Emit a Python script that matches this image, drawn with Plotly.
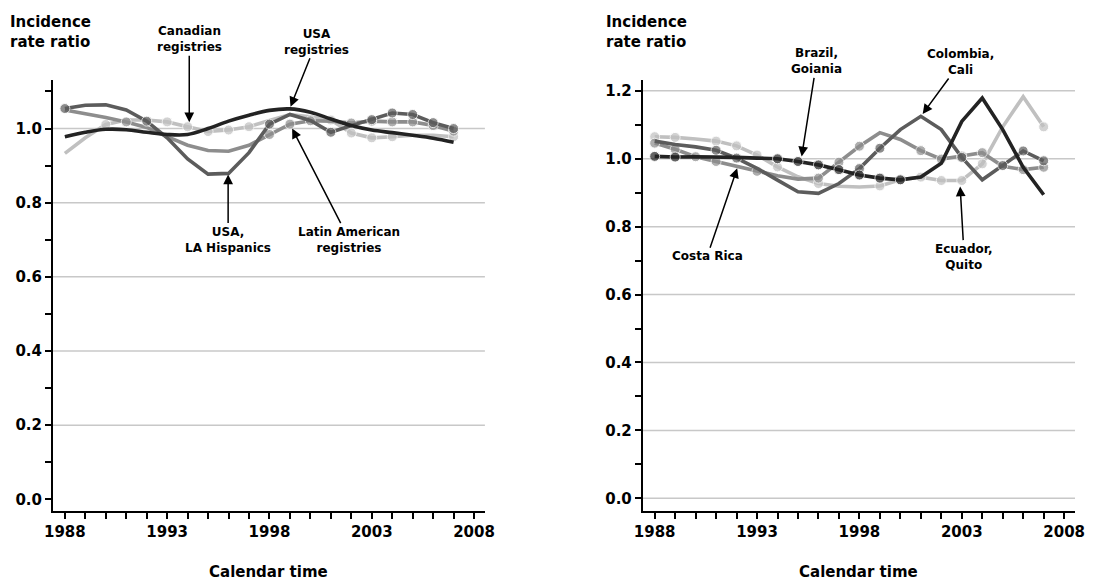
import plotly.graph_objects as go

years = list(range(1988, 2008))

# Left panel (North America / Latin America registries)
usa_registries = [0.978, 0.990, 0.998, 0.997, 0.990, 0.984, 0.984, 1.000, 1.020, 1.036,
                  1.049, 1.053, 1.044, 1.026, 1.008, 0.996, 0.989, 0.982, 0.974, 0.963]
usa_la_hispanics = [1.054, 1.063, 1.064, 1.050, 1.020, 0.975, 0.918, 0.877, 0.879, 0.935,
                    1.012, 1.038, 1.022, 0.990, 1.008, 1.024, 1.042, 1.038, 1.016, 1.000]
latin_american = [1.050, 1.041, 1.030, 1.018, 1.003, 0.978, 0.955, 0.941, 0.939, 0.955,
                  0.984, 1.012, 1.021, 1.020, 1.015, 1.020, 1.018, 1.018, 1.008, 0.993]
canadian = [0.933, 0.975, 1.011, 1.023, 1.023, 1.018, 1.005, 0.992, 0.996, 1.005,
            1.022, 1.038, 1.032, 1.023, 0.988, 0.975, 0.978, 0.982, 0.982, 0.978]

# Right panel (Latin American registries)
brazil_goiania = [1.007, 1.005, 1.006, 1.006, 1.004, 1.002, 1.000, 0.992, 0.982, 0.968,
                  0.952, 0.943, 0.938, 0.946, 0.987, 1.110, 1.179, 1.086, 0.975, 0.894]
colombia_cali = [1.052, 1.042, 1.035, 1.025, 1.002, 0.972, 0.937, 0.903, 0.898, 0.927,
                 0.971, 1.031, 1.086, 1.125, 1.086, 1.004, 0.938, 0.980, 1.023, 0.994]
costa_rica = [1.046, 1.028, 1.006, 0.992, 0.979, 0.963, 0.950, 0.940, 0.943, 0.990,
              1.037, 1.077, 1.057, 1.024, 0.999, 1.008, 1.018, 0.978, 0.968, 0.975]
ecuador_quito = [1.065, 1.063, 1.058, 1.052, 1.038, 1.011, 0.976, 0.947, 0.927, 0.919,
                 0.917, 0.920, 0.938, 0.946, 0.936, 0.936, 0.985, 1.094, 1.183, 1.094]

# which yearly points carry a visible marker (1) or not (0)
mk_usa = [0] * 20
mk_la_hisp = [1, 0, 0, 0, 1, 0, 0, 0, 0, 0, 1, 0, 0, 1, 0, 1, 1, 1, 1, 1]
mk_latin = [0, 0, 0, 1, 0, 0, 0, 0, 0, 0, 1, 1, 1, 0, 1, 1, 1, 1, 1, 1]
mk_canadian = [0, 0, 1, 0, 0, 1, 1, 1, 1, 1, 0, 0, 0, 1, 1, 1, 1, 0, 0, 1]
mk_brazil = [1, 1, 0, 0, 0, 0, 1, 1, 1, 1, 1, 1, 1, 0, 0, 0, 0, 0, 0, 0]
mk_colombia = [0, 0, 0, 1, 1, 0, 0, 0, 0, 0, 1, 1, 0, 0, 0, 1, 0, 1, 1, 1]
mk_costa = [1, 1, 1, 1, 0, 1, 0, 0, 1, 1, 1, 0, 0, 1, 1, 1, 1, 0, 1, 1]
mk_ecuador = [1, 1, 0, 1, 1, 1, 1, 0, 1, 0, 0, 1, 1, 1, 1, 1, 1, 0, 0, 1]

x_ticks = [1988, 1993, 1998, 2003, 2008]
left_y_ticks = [0.0, 0.2, 0.4, 0.6, 0.8, 1.0]
right_y_ticks = [0.0, 0.2, 0.4, 0.6, 0.8, 1.0, 1.2]
left_grid = [0.2, 0.4, 0.6, 0.8, 1.0]
right_grid = [0.0, 0.2, 0.4, 0.6, 0.8, 1.0, 1.2]

BLACK = "#232323"
DARK = "#5c5c5c"
MID = "#8d8d8d"
LIGHT = "#c0c0c0"
FONT = "DejaVu Sans"

fig = go.Figure()


def add_series(vals, mask, color, xa, ya, shape="linear"):
    fig.add_trace(go.Scatter(
        x=years, y=vals, mode="lines+markers", xaxis=xa, yaxis=ya,
        line=dict(color=color, width=3.6, shape=shape, smoothing=1.0),
        marker=dict(color=color, size=[10 if m else 0 for m in mask]),
        showlegend=False, hoverinfo="skip"))


add_series(canadian, mk_canadian, LIGHT, "x", "y")
add_series(latin_american, mk_latin, MID, "x", "y")
add_series(usa_la_hispanics, mk_la_hisp, DARK, "x", "y")
add_series(usa_registries, mk_usa, BLACK, "x", "y", shape="spline")

add_series(ecuador_quito, mk_ecuador, LIGHT, "x2", "y2")
add_series(costa_rica, mk_costa, MID, "x2", "y2")
add_series(colombia_cali, mk_colombia, DARK, "x2", "y2")
add_series(brazil_goiania, mk_brazil, BLACK, "x2", "y2")

tickfont = dict(family=FONT, size=15, color="black", weight="bold")


def xaxis_cfg(domain, anchor):
    return dict(domain=domain, anchor=anchor, range=[1987.42, 2008.53],
                tickmode="array", tickvals=x_ticks, ticks="outside", ticklen=6,
                tickwidth=1.5, tickcolor="black", showline=True, linewidth=2,
                linecolor="black", showgrid=False, zeroline=False, tickfont=tickfont,
                minor=dict(dtick=1, tick0=1988, ticks="outside", ticklen=6,
                           tickwidth=1.5, tickcolor="black", showgrid=False))


def yaxis_cfg(rng, tv, anchor):
    return dict(domain=[0, 1], anchor=anchor, range=rng, tickmode="array",
                tickvals=tv, tickformat=".1f", ticks="outside", ticklen=6,
                tickwidth=1.5, tickcolor="black", showline=True, linewidth=2,
                linecolor="black", showgrid=False, zeroline=False, tickfont=tickfont,
                minor=dict(dtick=0.1, tick0=0, ticks="outside", ticklen=6,
                           tickwidth=1.5, tickcolor="black", showgrid=False))


shapes = []
for g in left_grid:
    shapes.append(dict(type="line", xref="x domain", yref="y", x0=0, x1=1, y0=g, y1=g,
                       line=dict(color="#c8c8c8", width=1.5), layer="below"))
for g in right_grid:
    shapes.append(dict(type="line", xref="x2 domain", yref="y2", x0=0, x1=1, y0=g, y1=g,
                       line=dict(color="#c8c8c8", width=1.5), layer="below"))

afont = dict(family=FONT, size=12, color="black", weight="bold")


def arrow_note(text, x, y, ax, ay, xref, yref):
    return dict(text=text, x=x, y=y, ax=ax, ay=ay, xref=xref, yref=yref,
                showarrow=True, arrowhead=2, arrowsize=1.3, arrowwidth=1.5,
                arrowcolor="black", standoff=0, align="center", font=afont)


annotations = [
    arrow_note("Canadian<br>registries", 1994.08, 1.017, 0, -83, "x", "y"),
    arrow_note("USA<br>registries", 1999.03, 1.059, 26, -65, "x", "y"),
    arrow_note("USA,<br>LA Hispanics", 1995.98, 0.876, 0, 65, "x", "y"),
    arrow_note("Latin American<br>registries", 1999.11, 1.0, 57, 111, "x", "y"),
    arrow_note("Brazil,<br>Goiania", 1995.18, 1.007, 15, -95, "x2", "y2"),
    arrow_note("Colombia,<br>Cali", 2001.09, 1.132, 38, -52, "x2", "y2"),
    arrow_note("Costa Rica", 1992.03, 0.972, -30, 88, "x2", "y2"),
    arrow_note("Ecuador,<br>Quito", 2002.92, 0.918, 4, 70, "x2", "y2"),
]

tfont = dict(family=FONT, size=15, color="black", weight="bold")
for xp in [-0.0438, 0.5394]:
    annotations.append(dict(text="Incidence<br>rate ratio", xref="paper", yref="paper",
                            x=xp, y=1.16, xanchor="left", yanchor="top", align="left",
                            showarrow=False, font=tfont))
for xr in ["x domain", "x2 domain"]:
    annotations.append(dict(text="Calendar time", xref=xr, yref="paper", x=0.5, y=-0.1415,
                            xanchor="center", yanchor="middle", showarrow=False, font=tfont))

fig.update_layout(
    width=1097, height=581,
    margin=dict(l=53, r=17, t=80, b=70),
    paper_bgcolor="white", plot_bgcolor="white",
    xaxis=xaxis_cfg([0, 0.4226], "y"),
    yaxis=yaxis_cfg([-0.0316, 1.131], left_y_ticks, "x"),
    xaxis2=xaxis_cfg([0.5771, 1.0], "y2"),
    yaxis2=yaxis_cfg([-0.0374, 1.232], right_y_ticks, "x2"),
    shapes=shapes,
    annotations=annotations,
    font=dict(family=FONT),
)

fig.write_html(
    "out.html",
    config={"displayModeBar": False},
    post_script="document.body.style.margin='0px';document.body.style.padding='0px';"
                "document.body.style.overflow='hidden';",
)
